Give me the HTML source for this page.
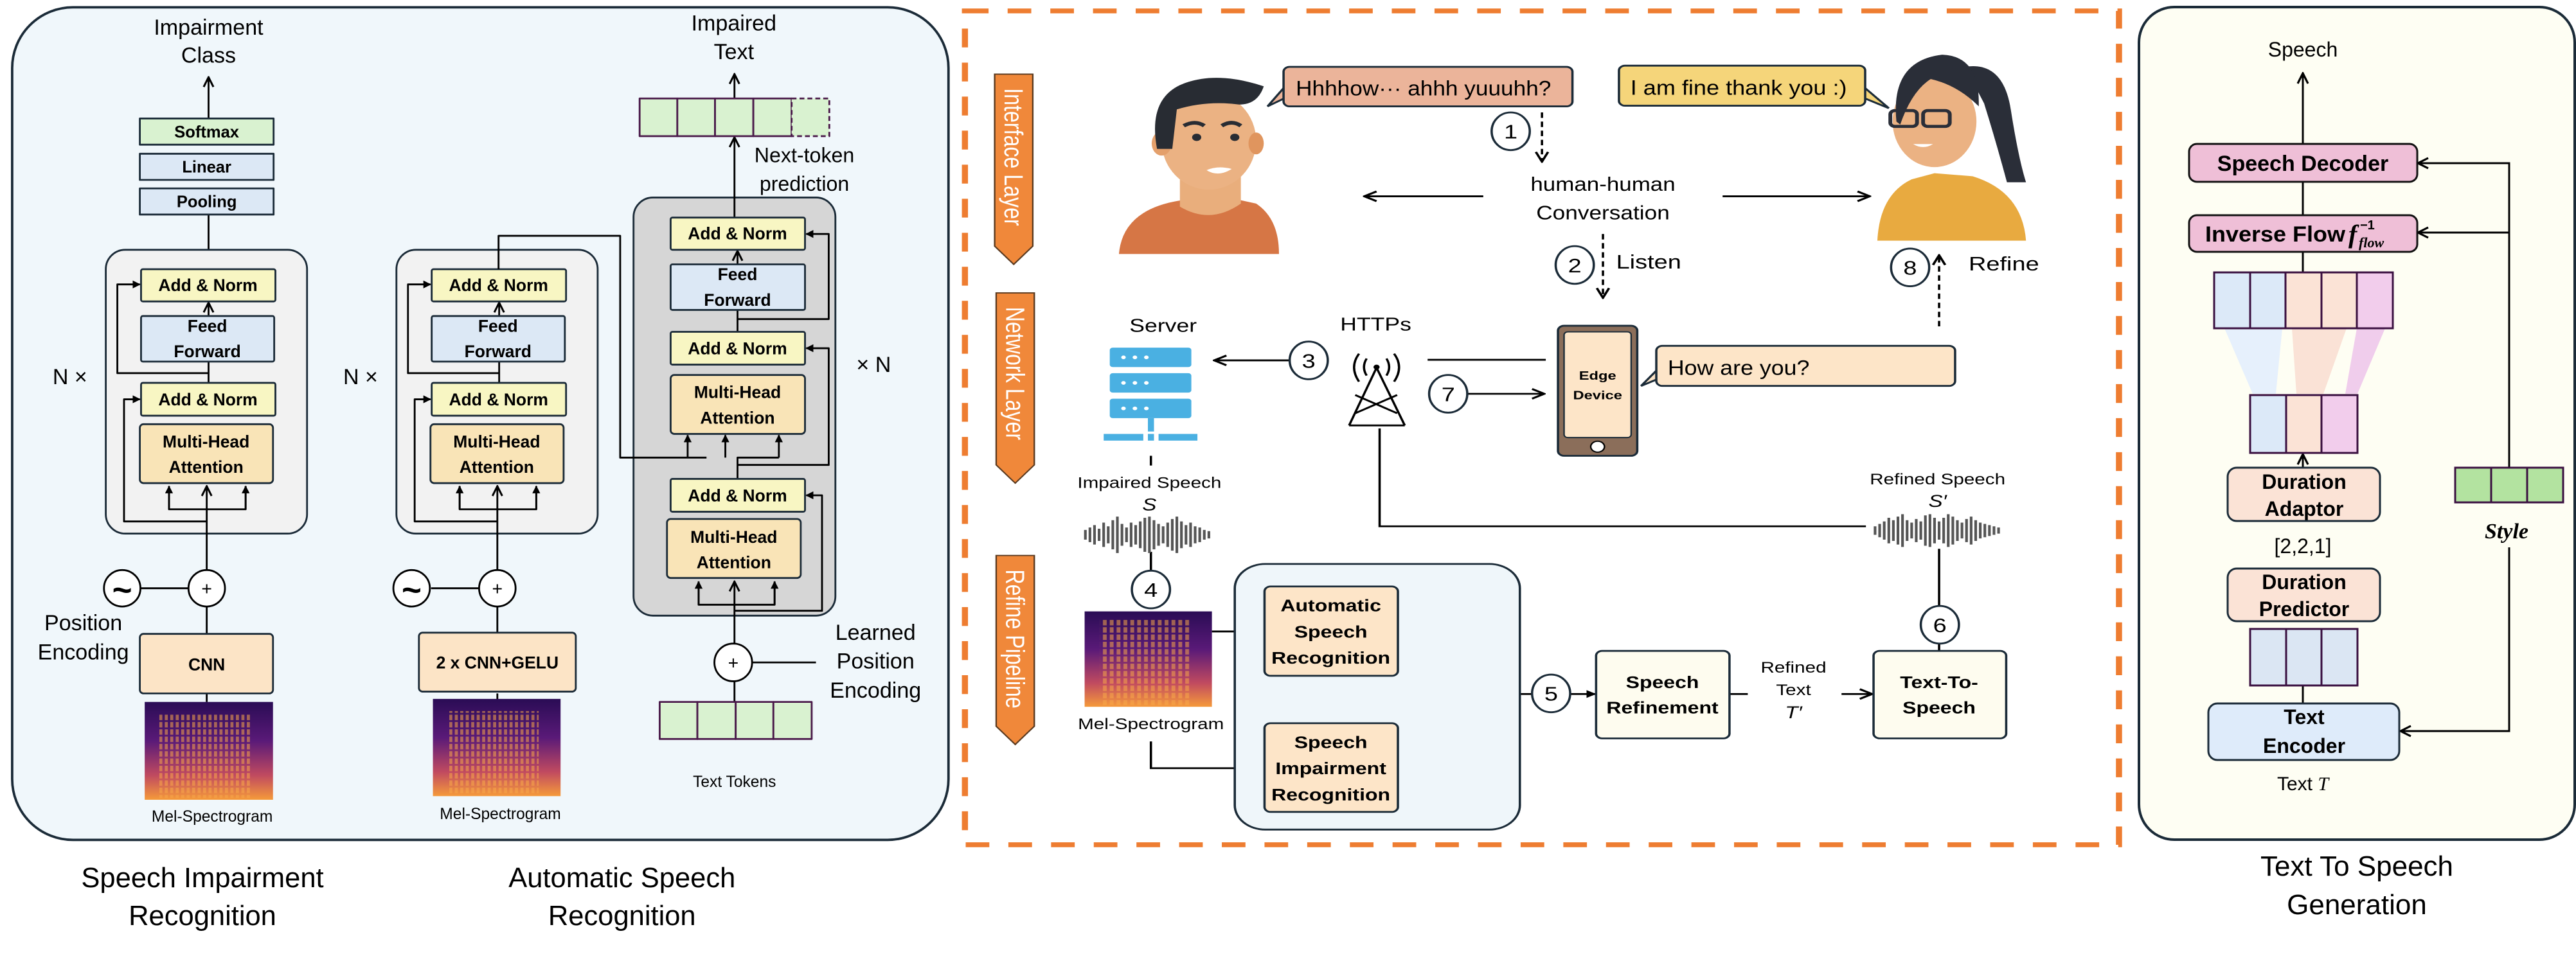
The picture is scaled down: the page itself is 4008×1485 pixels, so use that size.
<!DOCTYPE html>
<html><head><meta charset="utf-8"><style>
html,body{margin:0;padding:0;background:#fff}
svg{display:block}
text{font-family:"Liberation Sans",sans-serif}
.s{font-family:"Liberation Serif",serif;font-style:italic}
</style></head><body>
<svg width="4008" height="1485" viewBox="0 0 4008 1485" xmlns="http://www.w3.org/2000/svg">
<defs>
<marker id="o" viewBox="0 0 10 10" refX="9" refY="5" markerWidth="20" markerHeight="20" markerUnits="userSpaceOnUse" orient="auto"><path d="M1,1 L9,5 L1,9" fill="none" stroke="#000" stroke-width="1.6"/></marker>
<marker id="f" viewBox="0 0 10 10" refX="9" refY="5" markerWidth="13" markerHeight="13" markerUnits="userSpaceOnUse" orient="auto"><path d="M0,0 L10,5 L0,10z" fill="#000"/></marker>
<linearGradient id="spg" x1="0" y1="0" x2="0" y2="1">
<stop offset="0" stop-color="#2a0c55"/><stop offset="0.4" stop-color="#5a1a78"/><stop offset="0.75" stop-color="#c04a60"/><stop offset="1" stop-color="#f59a3a"/></linearGradient>
<pattern id="stp" width="9" height="12" patternUnits="userSpaceOnUse"><rect x="1" y="0" width="5" height="9" fill="#f8a848" opacity="0.55"/></pattern>
</defs>

<!-- ============ LEFT PANEL ============ -->
<g transform="scale(0.946)" stroke-linejoin="round">
<rect x="20" y="12" width="1540" height="1370" rx="100" fill="#f0f7fb" stroke="#1b2b38" stroke-width="4"/>
<g font-size="36" text-anchor="middle">
<text x="343" y="57">Impairment</text><text x="343" y="103">Class</text>
<text x="1207" y="50">Impaired</text><text x="1207" y="97">Text</text>
<text x="1323" y="267" font-size="34">Next-token</text><text x="1323" y="314" font-size="34">prediction</text>
<text x="115" y="632">N ×</text><text x="593" y="632">N ×</text><text x="1437" y="612">× N</text>
<text x="137" y="1037">Position</text><text x="137" y="1085">Encoding</text>
<text x="1440" y="1053">Learned</text><text x="1440" y="1100">Position</text><text x="1440" y="1148">Encoding</text>
</g>
<g font-size="26" text-anchor="middle">
<text x="349" y="1352">Mel-Spectrogram</text><text x="823" y="1348">Mel-Spectrogram</text><text x="1208" y="1295">Text Tokens</text>
</g>
<g font-size="46" text-anchor="middle">
<text x="333" y="1460">Speech Impairment</text><text x="333" y="1522">Recognition</text>
<text x="1023" y="1460">Automatic Speech</text><text x="1023" y="1522">Recognition</text>
</g>
<g stroke="#000" stroke-width="3" fill="none">
<line x1="343" y1="195" x2="343" y2="127" marker-end="url(#o)"/>
<line x1="343" y1="353" x2="343" y2="443"/>
</g>
<g stroke="#1b2b38" stroke-width="3">
<rect x="230" y="195" width="220" height="43" fill="#d9f2d0"/>
<rect x="230" y="253" width="220" height="43" fill="#dce8f5"/>
<rect x="230" y="310" width="220" height="43" fill="#dce8f5"/>
</g>
<g font-size="27" text-anchor="middle" font-weight="bold">
<text x="340" y="226">Softmax</text><text x="340" y="284">Linear</text><text x="340" y="341">Pooling</text>
</g>

<g id="enc">
<rect x="174" y="411" width="331" height="467" rx="32" fill="#f2f2f2" stroke="#1b2b38" stroke-width="3"/>
<g stroke="#000" stroke-width="3" fill="none">
<line x1="340" y1="938" x2="340" y2="800" marker-end="url(#o)"/>
<polyline points="278,800 278,838 404,838 404,800"/>
<line x1="278" y1="838" x2="278" y2="800" marker-end="url(#f)"/>
<line x1="404" y1="838" x2="404" y2="800" marker-end="url(#f)"/>
<polyline points="340,858 204,858 204,657 230,657" marker-end="url(#f)"/>
<line x1="343" y1="630" x2="343" y2="595"/>
<polyline points="343,614 193,614 193,468 230,468" marker-end="url(#f)"/>
<line x1="343" y1="520" x2="343" y2="498" marker-end="url(#o)"/>
<line x1="340" y1="1043" x2="340" y2="999"/>
<line x1="231" y1="968" x2="309" y2="968"/>
<line x1="340" y1="1141" x2="340" y2="1155"/>
</g>
<g stroke="#1b2b38" stroke-width="3">
<rect x="232" y="443" width="221" height="53" fill="#f8f6c3" rx="3"/>
<rect x="232" y="520" width="219" height="75" fill="#dce8f5" rx="3"/>
<rect x="232" y="630" width="221" height="54" fill="#f8f6c3" rx="3"/>
<rect x="230" y="698" width="219" height="97" fill="#f9e4b7" rx="6"/>
</g>
<g font-size="28" font-weight="bold" text-anchor="middle">
<text x="342" y="479">Add &amp; Norm</text>
<text x="341" y="546">Feed</text><text x="341" y="588">Forward</text>
<text x="342" y="667">Add &amp; Norm</text>
<text x="339" y="736">Multi-Head</text><text x="339" y="778">Attention</text>
</g>
<circle cx="340" cy="968" r="30" fill="#fff" stroke="#000" stroke-width="3"/>
<text x="340" y="979" font-size="30" text-anchor="middle">+</text>
</g>
<use href="#enc" transform="translate(478,0)"/>
<circle cx="201" cy="968" r="30" fill="#fff" stroke="#000" stroke-width="3"/>
<text x="201" y="990" font-size="56" text-anchor="middle" font-weight="bold">~</text>
<circle cx="677" cy="968" r="30" fill="#fff" stroke="#000" stroke-width="3"/>
<text x="677" y="990" font-size="56" text-anchor="middle" font-weight="bold">~</text>
<rect x="230" y="1043" width="219" height="98" rx="6" fill="#fce4c6" stroke="#1b2b38" stroke-width="3"/>
<text x="340" y="1103" font-size="28" font-weight="bold" text-anchor="middle">CNN</text>
<rect x="689" y="1041" width="258" height="97" rx="6" fill="#fce4c6" stroke="#1b2b38" stroke-width="3"/>
<text x="818" y="1100" font-size="28" font-weight="bold" text-anchor="middle">2 x CNN+GELU</text>
<rect x="238" y="1155" width="211" height="161" fill="url(#spg)"/>
<rect x="262" y="1175" width="150" height="138" fill="url(#stp)"/>
<rect x="712" y="1150" width="210" height="160" fill="url(#spg)"/>
<rect x="736" y="1170" width="150" height="137" fill="url(#stp)"/>

<rect x="1042" y="325" width="332" height="688" rx="32" fill="#d6d6d6" stroke="#1b2b38" stroke-width="3"/>
<g stroke="#000" stroke-width="3" fill="none">
<polyline points="820,443 820,388 1020,388 1020,753 1162,753"/>
<line x1="1131" y1="753" x2="1131" y2="716" marker-end="url(#f)"/>
<line x1="1193" y1="753" x2="1193" y2="716" marker-end="url(#f)"/>
<polyline points="1213,788 1213,753 1281,753"/>
<line x1="1281" y1="753" x2="1281" y2="716" marker-end="url(#f)"/>
<polyline points="1213,765 1363,765 1363,573 1326,573" marker-end="url(#f)"/>
<line x1="1213" y1="546" x2="1213" y2="510"/>
<polyline points="1213,525 1363,525 1363,385 1326,385" marker-end="url(#f)"/>
<line x1="1213" y1="435" x2="1213" y2="413" marker-end="url(#o)"/>
<line x1="1208" y1="1059" x2="1208" y2="957" marker-end="url(#o)"/>
<polyline points="1149,957 1149,995 1274,995 1274,957"/>
<line x1="1149" y1="995" x2="1149" y2="957" marker-end="url(#f)"/>
<line x1="1274" y1="995" x2="1274" y2="957" marker-end="url(#f)"/>
<polyline points="1208,1005 1352,1005 1352,815 1326,815" marker-end="url(#f)"/>
<line x1="1208" y1="358" x2="1208" y2="226" marker-end="url(#o)"/>
<line x1="1208" y1="162" x2="1208" y2="122" marker-end="url(#o)"/>
<line x1="1237" y1="1090" x2="1342" y2="1090"/>
<line x1="1208" y1="1121" x2="1208" y2="1155"/>
</g>
<g stroke="#1b2b38" stroke-width="3">
<rect x="1103" y="358" width="221" height="53" fill="#f8f6c3" rx="3"/>
<rect x="1103" y="435" width="221" height="75" fill="#dce8f5" rx="3"/>
<rect x="1103" y="546" width="221" height="54" fill="#f8f6c3" rx="3"/>
<rect x="1103" y="617" width="221" height="97" fill="#f9e4b7" rx="6"/>
<rect x="1103" y="788" width="221" height="54" fill="#f8f6c3" rx="3"/>
<rect x="1097" y="854" width="220" height="97" fill="#f9e4b7" rx="6"/>
</g>
<g font-size="28" font-weight="bold" text-anchor="middle">
<text x="1213" y="394">Add &amp; Norm</text>
<text x="1213" y="461">Feed</text><text x="1213" y="503">Forward</text>
<text x="1213" y="583">Add &amp; Norm</text>
<text x="1213" y="655">Multi-Head</text><text x="1213" y="697">Attention</text>
<text x="1213" y="825">Add &amp; Norm</text>
<text x="1207" y="893">Multi-Head</text><text x="1207" y="935">Attention</text>
</g>
<circle cx="1206" cy="1090" r="31" fill="#fff" stroke="#000" stroke-width="3"/>
<text x="1206" y="1101" font-size="30" text-anchor="middle">+</text>
<g stroke="#4a1a4a" stroke-width="3" fill="#d9f2d0">
<rect x="1052" y="162" width="62" height="62"/><rect x="1114" y="162" width="62" height="62"/><rect x="1176" y="162" width="63" height="62"/><rect x="1239" y="162" width="63" height="62"/>
<rect x="1302" y="162" width="62" height="62" stroke-dasharray="8,5"/>
<rect x="1085" y="1155" width="62" height="61"/><rect x="1147" y="1155" width="63" height="61"/><rect x="1210" y="1155" width="62" height="61"/><rect x="1272" y="1155" width="63" height="61"/>
</g>
</g>

<!-- ============ MIDDLE PANEL ============ -->
<g transform="translate(1480,0) scale(1.186,0.946)">
<rect x="18" y="18" width="1514" height="1372" fill="none" stroke="#ee7d31" stroke-width="8" stroke-dasharray="31,25"/>
<g fill="#f0883a" stroke="#5a3a20" stroke-width="2">
<path d="M57,122 H107 V405 L82,435 L57,405Z"/>
<path d="M59,482 H109 V765 L84,795 L59,765Z"/>
<path d="M59,914 H109 V1195 L84,1225 L59,1195Z"/>
</g>
<g fill="#fff" font-size="34">
<text transform="translate(70,145) rotate(90)">Interface Layer</text>
<text transform="translate(72,505) rotate(90)">Network Layer</text>
<text transform="translate(72,937) rotate(90)">Refine Pipeline</text>
</g>
<!-- man -->
<path d="M220,418 Q225,345 300,330 L345,320 L400,335 Q430,360 430,418Z" fill="#d67645"/>
<path d="M300,290 L300,340 Q340,370 380,335 L380,290Z" fill="#e9ae7c"/>
<ellipse cx="338" cy="232" rx="62" ry="80" fill="#ebb283"/>
<ellipse cx="276" cy="236" rx="13" ry="20" fill="#e4a06c"/>
<ellipse cx="400" cy="236" rx="10" ry="18" fill="#e0955e"/>
<path d="M270,245 Q258,165 300,140 Q345,115 410,142 Q402,172 378,172 Q335,165 296,180 L290,245Z" fill="#282c33"/>
<circle cx="322" cy="226" r="6" fill="#282c33"/><circle cx="372" cy="226" r="6" fill="#282c33"/>
<path d="M305,207 Q320,197 332,207 M355,207 Q368,197 380,207" stroke="#282c33" stroke-width="6" fill="none"/>
<path d="M335,280 Q350,292 368,278 Q350,272 335,280Z" fill="#fff"/>
<!-- woman -->
<path d="M1215,396 Q1218,320 1260,295 L1290,285 L1340,290 Q1405,315 1410,396Z" fill="#e8aa40"/>
<path d="M1330,110 Q1380,100 1390,180 Q1400,260 1410,300 L1385,300 Q1370,230 1355,170Z" fill="#2a2e38"/>
<ellipse cx="1290" cy="200" rx="55" ry="75" fill="#ebb283"/>
<path d="M1240,200 Q1232,100 1300,90 Q1350,92 1348,175 Q1320,140 1285,130 Q1260,150 1245,205Z" fill="#2a2e38"/>
<rect x="1232" y="182" width="35" height="26" rx="6" fill="none" stroke="#2a2e38" stroke-width="5"/>
<rect x="1275" y="182" width="35" height="26" rx="6" fill="none" stroke="#2a2e38" stroke-width="5"/>
<path d="M1262,237 Q1275,247 1288,237Z" fill="#fff"/>
<!-- bubbles -->
<path d="M436,145 L415,175 L440,160Z" fill="#ebb49a" stroke="#1b2b38" stroke-width="3"/>
<rect x="436" y="110" width="379" height="65" rx="8" fill="#ebb49a" stroke="#1b2b38" stroke-width="3"/>
<path d="M1199,145 L1230,178 L1195,160Z" fill="#f5d57a" stroke="#1b2b38" stroke-width="3"/>
<rect x="876" y="108" width="323" height="66" rx="8" fill="#f5d57a" stroke="#1b2b38" stroke-width="3"/>
<path d="M925,610 L905,635 L930,622Z" fill="#fde5c8" stroke="#1b2b38" stroke-width="3"/>
<rect x="925" y="569" width="392" height="66" rx="8" fill="#fde5c8" stroke="#1b2b38" stroke-width="3"/>
<g font-size="34">
<text x="452" y="157" textLength="335" lengthAdjust="spacingAndGlyphs">Hhhhow··· ahhh yuuuhh?</text>
<text x="891" y="156" textLength="284" lengthAdjust="spacingAndGlyphs">I am fine thank you :)</text>
<text x="940" y="617" textLength="186" lengthAdjust="spacingAndGlyphs">How are you?</text>
</g>
<g font-size="32" text-anchor="middle">
<text x="855" y="314" textLength="190" lengthAdjust="spacingAndGlyphs">human-human</text>
<text x="855" y="361" textLength="175" lengthAdjust="spacingAndGlyphs">Conversation</text>
<text x="915" y="442">Listen</text><text x="1381" y="445">Refine</text>
<text x="278" y="546" font-size="30">Server</text><text x="557" y="544" font-size="30">HTTPs</text>
</g>
<g font-size="25" text-anchor="middle">
<text x="260" y="803">Impaired Speech</text><text x="1294" y="797">Refined Speech</text>
<text x="262" y="1200">Mel-Spectrogram</text>
<text x="665" y="1010">Impaired</text><text x="665" y="1047">Text</text>
<text x="665" y="1235">Impairment</text><text x="665" y="1272">Class</text>
<text x="1105" y="1107">Refined</text><text x="1105" y="1144">Text</text>
</g>
<g font-size="28" class="s" text-anchor="middle">
<text x="260" y="840">S</text><text x="1294" y="834">S′</text>
<text x="665" y="1085">T</text><text x="665" y="1310">C</text><text x="1105" y="1182">T′</text>
</g>
<g stroke="#000" stroke-width="3" fill="none">
<line x1="775" y1="185" x2="775" y2="266" stroke-dasharray="9,6" marker-end="url(#o)"/>
<line x1="698" y1="323" x2="542" y2="323" marker-end="url(#o)"/>
<line x1="1012" y1="323" x2="1205" y2="323" marker-end="url(#o)"/>
<line x1="855" y1="385" x2="855" y2="490" stroke-dasharray="9,6" marker-end="url(#o)"/>
<line x1="1296" y1="537" x2="1296" y2="420" stroke-dasharray="9,6" marker-end="url(#o)"/>
<line x1="445" y1="593" x2="345" y2="593" marker-end="url(#o)"/>
<line x1="625" y1="592" x2="780" y2="592"/>
<line x1="678" y1="648" x2="778" y2="648" marker-end="url(#o)"/>
<polyline points="562,705 562,866 1200,866"/>
<line x1="262" y1="750" x2="262" y2="766"/>
<line x1="262" y1="908" x2="262" y2="940"/>
<line x1="342" y1="1039" x2="409" y2="1039" marker-end="url(#f)"/>
<polyline points="262,1220 262,1264 409,1264" marker-end="url(#f)"/>
<line x1="1296" y1="903" x2="1296" y2="998"/>
<line x1="1296" y1="1058" x2="1296" y2="1071"/>
<line x1="665" y1="1103" x2="665" y2="1198"/>
<line x1="665" y1="1142" x2="762" y2="1142"/>
<line x1="812" y1="1142" x2="845" y2="1142" marker-end="url(#f)"/>
<line x1="1021" y1="1142" x2="1045" y2="1142"/>
<line x1="1168" y1="1142" x2="1208" y2="1142" marker-end="url(#o)"/>
<line x1="586" y1="1039" x2="594" y2="1039"/><line x1="586" y1="1264" x2="594" y2="1264"/>
</g>
<g fill="#fff" stroke="#1b2b38" stroke-width="3">
<ellipse cx="734" cy="216" rx="25" ry="31"/><ellipse cx="818" cy="436" rx="25" ry="31"/>
<ellipse cx="1258" cy="440" rx="25" ry="31"/><ellipse cx="469" cy="593" rx="25" ry="31"/>
<ellipse cx="652" cy="648" rx="25" ry="31"/><ellipse cx="262" cy="970" rx="25" ry="31"/>
<ellipse cx="787" cy="1141" rx="25" ry="31"/><ellipse cx="1297" cy="1028" rx="25" ry="31"/>
</g>
<g font-size="32" text-anchor="middle">
<text x="734" y="228">1</text><text x="818" y="448">2</text><text x="1258" y="452">8</text><text x="469" y="605">3</text>
<text x="652" y="660">7</text><text x="262" y="982">4</text><text x="787" y="1153">5</text><text x="1297" y="1040">6</text>
</g>
<g fill="#4ab0e2">
<rect x="208" y="572" width="107" height="32" rx="4"/><rect x="208" y="614" width="107" height="32" rx="4"/><rect x="208" y="656" width="107" height="32" rx="4"/>
<rect x="258" y="688" width="8" height="22"/><rect x="200" y="714" width="52" height="11"/><rect x="258" y="714" width="8" height="11"/><rect x="272" y="714" width="51" height="11"/>
</g>
<g fill="#fff"><circle cx="226" cy="588" r="3"/><circle cx="241" cy="588" r="3"/><circle cx="256" cy="588" r="3"/>
<circle cx="226" cy="630" r="3"/><circle cx="241" cy="630" r="3"/><circle cx="256" cy="630" r="3"/>
<circle cx="226" cy="672" r="3"/><circle cx="241" cy="672" r="3"/><circle cx="256" cy="672" r="3"/></g>
<g stroke="#000" stroke-width="3" fill="none">
<path d="M558,605 L522,700 M558,605 L595,700 M530,680 L585,650 M530,650 L585,680 M522,700 L595,700"/>
<path d="M545,590 Q538,604 545,618 M571,590 Q578,604 571,618 M535,582 Q522,604 535,628 M581,582 Q594,604 581,628"/>
</g>
<circle cx="558" cy="604" r="4"/>
<rect x="796" y="536" width="104" height="214" rx="8" fill="#8b6e5a" stroke="#1b2b38" stroke-width="3"/>
<rect x="804" y="546" width="88" height="174" rx="5" fill="#fde5c8" stroke="#1b2b38" stroke-width="2"/>
<circle cx="848" cy="735" r="9" fill="#fff" stroke="#000" stroke-width="2"/>
<g font-size="20" font-weight="bold" text-anchor="middle"><text x="848" y="625">Edge</text><text x="848" y="657">Device</text></g>
<g stroke="#555" stroke-width="3.5">
<path d="M176,872v16M182,868v24M188,864v32M194,870v20M200,860v40M206,866v28M212,856v48M218,850v60M224,862v36M230,868v24M236,860v40M242,864v32M248,858v44M254,852v56M260,850v60M266,856v48M272,862v36M278,866v28M284,860v40M290,854v52M296,850v60M302,858v44M308,864v32M314,860v40M320,866v28M326,868v24M332,872v16M338,874v12"/>
<path d="M1212,866v14M1218,862v22M1224,858v30M1230,852v42M1236,856v34M1242,850v46M1248,846v54M1254,856v34M1260,860v26M1266,854v38M1272,858v30M1278,848v50M1284,846v54M1290,852v42M1296,858v30M1302,852v42M1308,846v54M1314,850v46M1320,856v34M1326,860v26M1332,854v38M1338,850v46M1344,856v34M1350,860v26M1356,862v22M1362,864v18M1368,866v14M1374,868v10"/>
</g>
<rect x="175" y="1006" width="167" height="157" fill="url(#spg)"/>
<rect x="195" y="1020" width="120" height="140" fill="url(#stp)"/>
<rect x="372" y="928" width="374" height="437" rx="40" fill="#eff6fa" stroke="#1b2b38" stroke-width="3"/>
<g stroke="#1b2b38" stroke-width="3">
<rect x="411" y="965" width="175" height="147" rx="8" fill="#fde5c8"/>
<rect x="411" y="1190" width="175" height="146" rx="8" fill="#fde5c8"/>
<rect x="846" y="1071" width="175" height="144" rx="8" fill="#fefcef"/>
<rect x="1210" y="1071" width="174" height="144" rx="8" fill="#fefcef"/>
</g>
<g font-size="27" font-weight="bold" text-anchor="middle">
<text x="498" y="1006">Automatic</text><text x="498" y="1049">Speech</text><text x="498" y="1092">Recognition</text>
<text x="498" y="1231">Speech</text><text x="498" y="1274">Impairment</text><text x="498" y="1317">Recognition</text>
<text x="933" y="1132">Speech</text><text x="933" y="1174">Refinement</text>
<text x="1296" y="1132">Text-To-</text><text x="1296" y="1174">Speech</text>
</g>
</g>

<!-- ============ RIGHT PANEL ============ -->
<rect x="3328" y="11" width="678" height="1296" rx="55" fill="#fefef3" stroke="#1b2b38" stroke-width="4"/>
<text x="3583" y="88" font-size="32" text-anchor="middle">Speech</text>
<g stroke="#000" stroke-width="3" fill="none">
<line x1="3583" y1="224" x2="3583" y2="114" marker-end="url(#o)"/>
<line x1="3583" y1="283" x2="3583" y2="335"/>
<line x1="3583" y1="392" x2="3583" y2="424"/>
<line x1="3583" y1="728" x2="3583" y2="707" marker-end="url(#o)"/>
<line x1="3583" y1="1067" x2="3583" y2="1095"/>
<polyline points="3904,728 3904,254 3762,254" marker-end="url(#o)"/>
<line x1="3904" y1="362" x2="3762" y2="362" marker-end="url(#o)"/>
<polyline points="3904,852 3904,1138 3735,1138" marker-end="url(#o)"/>
</g>
<g stroke="#111" stroke-width="3">
<rect x="3406" y="224" width="355" height="59" rx="12" fill="#efbfd7"/>
<rect x="3406" y="335" width="355" height="57" rx="12" fill="#efbfd7"/>
</g>
<text x="3583" y="266" font-size="34" font-weight="bold" text-anchor="middle">Speech Decoder</text>
<text x="3431" y="376" font-size="34" font-weight="bold" textLength="218" lengthAdjust="spacingAndGlyphs">Inverse Flow</text>
<text x="3654" y="378" font-size="40" font-weight="bold" class="s">f</text>
<text x="3670" y="385" font-size="22" font-weight="bold" class="s">flow</text>
<text x="3672" y="357" font-size="20" font-weight="bold">−1</text>
<path d="M3461,511 L3551,511 L3541,613 L3505,613Z" fill="#e6f0fc"/>
<path d="M3566,511 L3651,511 L3615,613 L3573,613Z" fill="#fae2d6"/>
<path d="M3667,511 L3711,511 L3668,613 L3649,613Z" fill="#f0cdec"/>
<g stroke="#3a1040" stroke-width="3">
<rect x="3445" y="424" width="56" height="87" fill="#dce9f8"/><rect x="3501" y="424" width="55" height="87" fill="#dce9f8"/>
<rect x="3556" y="424" width="56" height="87" fill="#fbe3d6"/><rect x="3612" y="424" width="55" height="87" fill="#fbe3d6"/>
<rect x="3667" y="424" width="56" height="87" fill="#f2cdec"/>
<rect x="3501" y="615" width="56" height="90" fill="#dce9f8"/><rect x="3557" y="615" width="55" height="90" fill="#fbe3d6"/><rect x="3612" y="615" width="56" height="90" fill="#f2cdec"/>
<rect x="3501" y="979" width="56" height="88" fill="#dbe6f3"/><rect x="3557" y="979" width="55" height="88" fill="#dbe6f3"/><rect x="3612" y="979" width="56" height="88" fill="#dbe6f3"/>
<rect x="3820" y="728" width="56" height="54" fill="#b3e3a0"/><rect x="3876" y="728" width="56" height="54" fill="#b3e3a0"/><rect x="3932" y="728" width="56" height="54" fill="#b3e3a0"/>
</g>
<g stroke="#1b2b38" stroke-width="3">
<rect x="3466" y="728" width="237" height="83" rx="14" fill="#fbe3d6"/>
<rect x="3466" y="885" width="237" height="82" rx="14" fill="#fbe3d6"/>
<rect x="3436" y="1095" width="297" height="88" rx="14" fill="#deebfa"/>
</g>
<g font-size="32" font-weight="bold" text-anchor="middle">
<text x="3585" y="761">Duration</text><text x="3585" y="803">Adaptor</text>
<text x="3585" y="917">Duration</text><text x="3585" y="959">Predictor</text>
<text x="3585" y="1127">Text</text><text x="3585" y="1172">Encoder</text>
</g>
<text x="3583" y="861" font-size="32" font-family="Liberation Serif" text-anchor="middle">[2,2,1]</text>
<text x="3583" y="1230" font-size="30" text-anchor="middle">Text <tspan class="s">T</tspan></text>
<text x="3900" y="838" font-size="34" font-weight="bold" class="s" text-anchor="middle">Style</text>
<g font-size="44" text-anchor="middle"><text x="3667" y="1363">Text To Speech</text><text x="3667" y="1423">Generation</text></g>
</svg>
</body></html>
